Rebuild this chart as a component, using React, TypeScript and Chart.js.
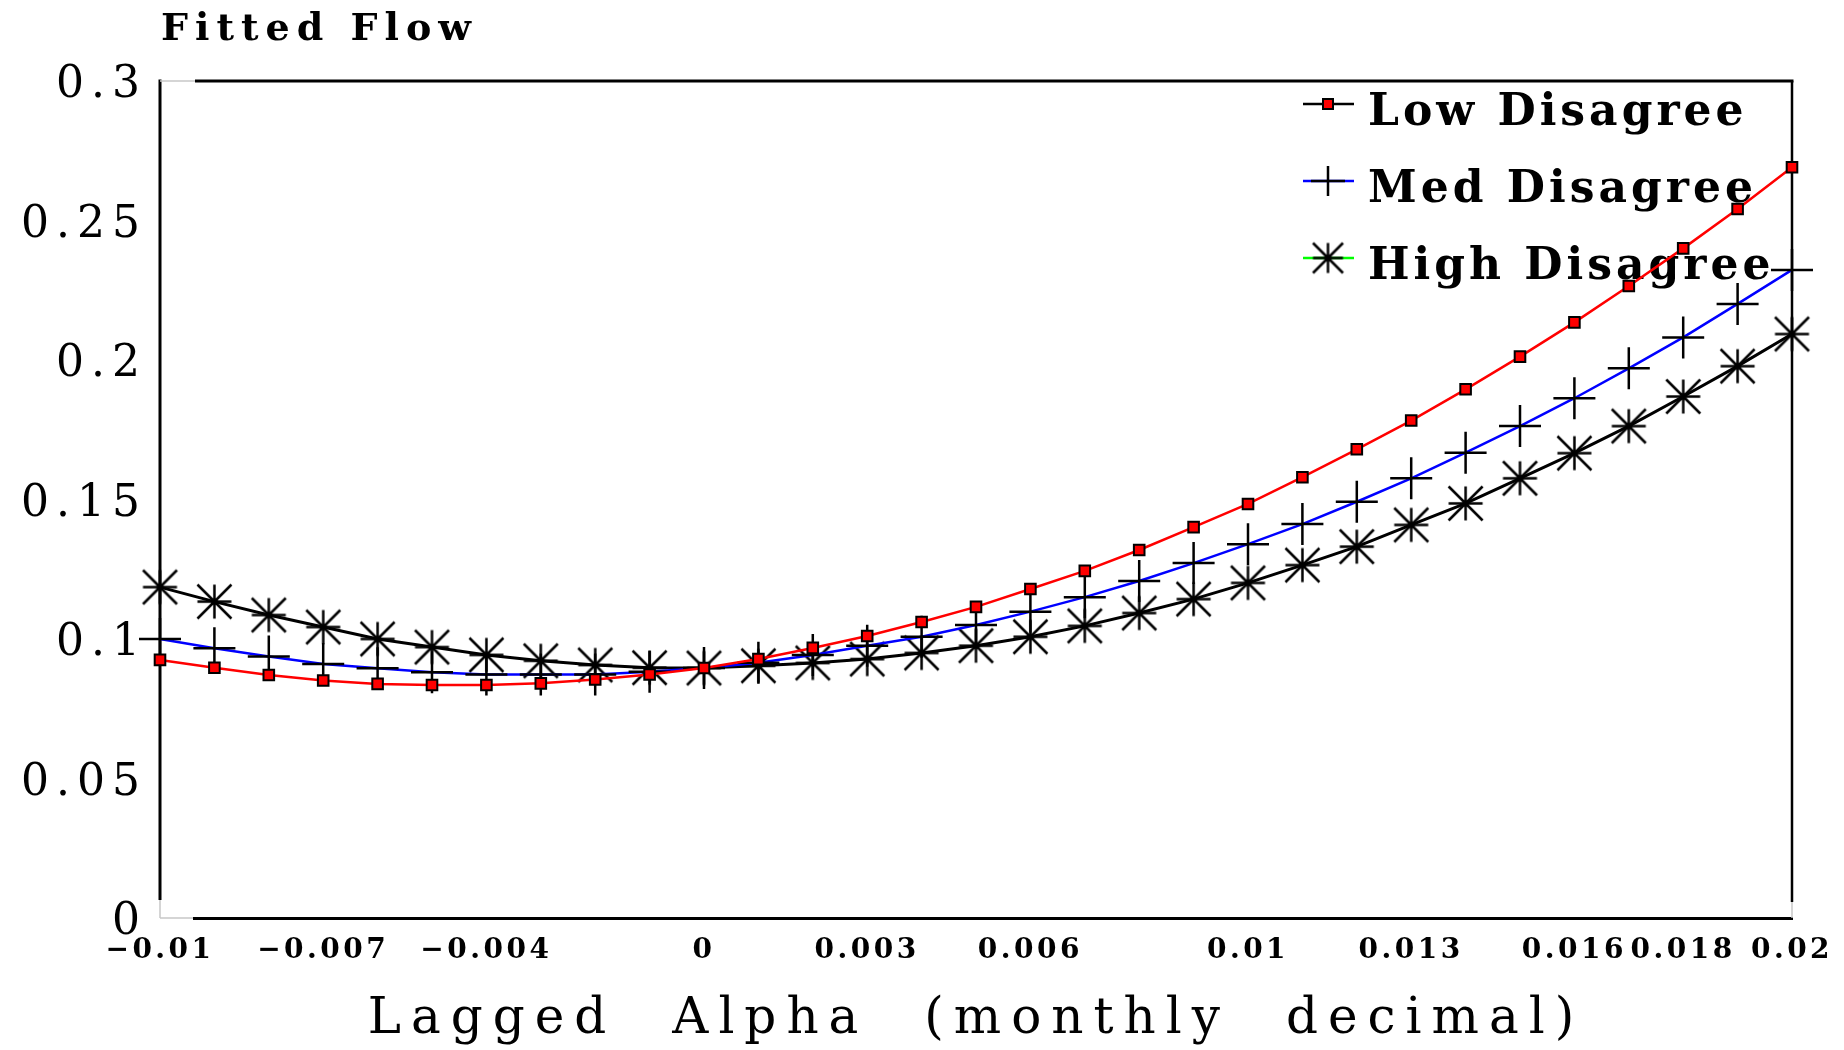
import React, { useEffect, useRef } from 'react';
import { Chart, registerables } from 'chart.js';

Chart.register(...registerables);

// ---- data ----
const xValues = [
  -0.01, -0.009, -0.008, -0.007, -0.006, -0.005, -0.004, -0.003, -0.002, -0.001,
  0, 0.001, 0.002, 0.003, 0.004, 0.005, 0.006, 0.007, 0.008, 0.009,
  0.01, 0.011, 0.012, 0.013, 0.014, 0.015, 0.016, 0.017, 0.018, 0.019, 0.02,
];
const lowDisagree = [
  0.0925, 0.0897, 0.0871, 0.0851, 0.0839, 0.0835, 0.0835, 0.0841, 0.0855, 0.0873,
  0.0896, 0.0928, 0.0968, 0.1011, 0.1061, 0.1115, 0.1179, 0.1244, 0.1319, 0.1401,
  0.1484, 0.158, 0.168, 0.1783, 0.1895, 0.2012, 0.2135, 0.2265, 0.24, 0.2541, 0.2691,
];
const medDisagree = [
  0.1, 0.0967, 0.0937, 0.091, 0.0895, 0.0881, 0.0873, 0.0873, 0.0873, 0.0883,
  0.0896, 0.0915, 0.0943, 0.0976, 0.1008, 0.105, 0.1098, 0.115, 0.1208, 0.1272,
  0.134, 0.1412, 0.1492, 0.1576, 0.1668, 0.1763, 0.1863, 0.197, 0.2081, 0.2201, 0.2323,
];
const highDisagree = [
  0.1186, 0.1134, 0.1086, 0.1043, 0.1, 0.0971, 0.0943, 0.0922, 0.0907, 0.0897,
  0.0896, 0.0904, 0.0914, 0.0928, 0.095, 0.0976, 0.1008, 0.1047, 0.1093, 0.1143,
  0.1201, 0.1265, 0.1331, 0.1409, 0.1486, 0.1576, 0.1666, 0.1763, 0.1869, 0.1978, 0.2093,
];
const xTickValues = [-0.01, -0.007, -0.004, 0, 0.003, 0.006, 0.01, 0.013, 0.016, 0.018, 0.02];
const yTickValues = [0, 0.05, 0.1, 0.15, 0.2, 0.25, 0.3];
const yTickLabels = ['0', '0.05', '0.1', '0.15', '0.2', '0.25', '0.3'];
const seriesNames = ['Low Disagree', 'Med Disagree', 'High Disagree'];
const chartTitle = 'Fitted Flow';
const xAxisTitle = 'Lagged Alpha (monthly decimal)';

const SERIF = '"DejaVu Serif", serif';

function makeStar(half: number, lw: number) {
  const size = Math.ceil(half * 2 + lw * 2 + 2);
  const c = document.createElement('canvas');
  c.width = size;
  c.height = size;
  const g = c.getContext('2d')!;
  g.strokeStyle = '#000';
  g.lineWidth = lw;
  const m = size / 2;
  g.beginPath();
  g.moveTo(m - half, m); g.lineTo(m + half, m);
  g.moveTo(m, m - half); g.lineTo(m, m + half);
  g.moveTo(m - half, m - half); g.lineTo(m + half, m + half);
  g.moveTo(m - half, m + half); g.lineTo(m + half, m - half);
  g.stroke();
  return c;
}

function spaced(fn: any, spacing: string, wordSpacing: string) {
  return function (this: any, ...args: any[]) {
    const ctx = this.ctx;
    const prev = ctx.letterSpacing;
    const prevW = ctx.wordSpacing;
    ctx.letterSpacing = spacing;
    ctx.wordSpacing = wordSpacing;
    try {
      return fn.apply(this, args);
    } finally {
      ctx.letterSpacing = prev;
      ctx.wordSpacing = prevW;
    }
  };
}

function patchScale(scale: any, labelSpacing: string, titleSpacing: string, titleWordSpacing: string) {
  if (scale.__patched) return;
  const proto = Object.getPrototypeOf(scale);
  scale.drawLabels = spaced(proto.drawLabels, labelSpacing, '0px');
  scale.drawTitle = spaced(proto.drawTitle, titleSpacing, titleWordSpacing);
  scale.__patched = true;
}

const fmtX = (v: number) => {
  const s = String(Math.abs(v));
  return v < 0 ? '\u2212' + s : s;
};

export default function App() {
  const ref = useRef<HTMLCanvasElement | null>(null);

  useEffect(() => {
    const canvas = ref.current!;
    const star = makeStar(17, 2.5);
    const legendStar = makeStar(15, 2.5);

    const framePlugin = {
      id: 'frameAndLegend',
      beforeDatasetsDraw(chart: any) {
        const { ctx } = chart;
        const { left, right, top, bottom } = chart.chartArea;
        ctx.save();
        ctx.fillStyle = '#fff';
        ctx.fillRect(left - 3, bottom - 18, 6, 21);
        ctx.fillRect(left - 3, bottom - 3, 36, 6);
        ctx.lineCap = 'butt';
        ctx.strokeStyle = '#000';
        ctx.lineWidth = 3;
        ctx.beginPath();
        ctx.moveTo(left + 35, top);
        ctx.lineTo(right + 1.5, top);
        ctx.stroke();
        ctx.lineWidth = 2.5;
        ctx.beginPath();
        ctx.moveTo(right, top);
        ctx.lineTo(right, bottom - 16);
        ctx.stroke();
        ctx.lineWidth = 3;
        ctx.beginPath();
        ctx.moveTo(left, top - 1.5);
        ctx.lineTo(left, bottom - 18);
        ctx.stroke();
        ctx.strokeStyle = '#c8c8c8';
        ctx.lineWidth = 1.5;
        ctx.beginPath();
        ctx.moveTo(left, top); ctx.lineTo(left + 35, top);
        ctx.moveTo(right, bottom - 16); ctx.lineTo(right, bottom);
        ctx.moveTo(left, bottom - 18); ctx.lineTo(left, bottom);
        ctx.moveTo(left, bottom); ctx.lineTo(left + 33, bottom);
        ctx.stroke();

        // chart title
        ctx.fillStyle = '#000';
        ctx.font = `bold 38px ${SERIF}`;
        ctx.letterSpacing = '7px';
        ctx.textAlign = 'left';
        ctx.textBaseline = 'alphabetic';
        ctx.fillText(chartTitle, 161, 40);

        // legend
        const rows = [104, 181, 258];
        const lineColors = ['#000000', '#0000ff', '#00ff00'];
        const lx0 = 1303, lx1 = 1354, mx = 1328;
        ctx.font = `bold 44px ${SERIF}`;
        ctx.letterSpacing = '4px';
        seriesNames.forEach((name, i) => {
          const y = rows[i];
          ctx.strokeStyle = lineColors[i];
          ctx.lineWidth = 2.5;
          ctx.beginPath();
          ctx.moveTo(lx0, y); ctx.lineTo(lx1, y);
          ctx.stroke();
          if (i === 0) {
            ctx.fillStyle = '#ff0000';
            ctx.strokeStyle = '#000';
            ctx.lineWidth = 2;
            ctx.fillRect(mx - 5, y - 5, 10, 10);
            ctx.strokeRect(mx - 5, y - 5, 10, 10);
          } else if (i === 1) {
            ctx.strokeStyle = '#000';
            ctx.lineWidth = 2.5;
            ctx.beginPath();
            ctx.moveTo(mx - 17, y); ctx.lineTo(mx + 17, y);
            ctx.moveTo(mx, y - 15); ctx.lineTo(mx, y + 15);
            ctx.stroke();
          } else {
            ctx.drawImage(legendStar, mx - legendStar.width / 2, y - legendStar.height / 2);
          }
          ctx.fillStyle = '#000';
          ctx.fillText(name, 1368, y + 21);
        });
        ctx.restore();
      },
    };

    const chart = new Chart(canvas, {
      type: 'line',
      data: {
        datasets: [
          {
            label: seriesNames[0],
            data: xValues.map((x, i) => ({ x, y: lowDisagree[i] })),
            borderColor: '#ff0000',
            borderWidth: 2.5,
            pointStyle: 'rect',
            pointRadius: 7.5,
            pointBackgroundColor: '#ff0000',
            pointBorderColor: '#000000',
            pointBorderWidth: 2,
            tension: 0,
          },
          {
            label: seriesNames[1],
            data: xValues.map((x, i) => ({ x, y: medDisagree[i] })),
            borderColor: '#0000ff',
            borderWidth: 2.5,
            pointStyle: 'cross',
            pointRadius: 21,
            pointBorderColor: '#000000',
            pointBorderWidth: 2.5,
            tension: 0,
          },
          {
            label: seriesNames[2],
            data: xValues.map((x, i) => ({ x, y: highDisagree[i] })),
            borderColor: '#000000',
            borderWidth: 3,
            pointStyle: star as any,
            pointRadius: 17,
            pointBorderColor: '#000000',
            tension: 0,
          },
        ],
      },
      options: {
        animation: false,
        responsive: false,
        devicePixelRatio: 1,
        clip: false as any,
        layout: { padding: { top: 81, right: 52, left: 0, bottom: 0 } },
        plugins: {
          legend: { display: false },
          title: { display: false },
          tooltip: { enabled: false },
        },
        events: [],
        scales: {
          x: {
            type: 'linear',
            min: -0.01,
            max: 0.02,
            grid: { display: false, drawTicks: false },
            border: { display: true, color: '#000', width: 3, dash: [51.4, 3], dashOffset: 51.4 },
            afterBuildTicks: (scale: any) => {
              scale.ticks = xTickValues.map((v) => ({ value: v }));
            },
            afterFit: (scale: any) => {
              scale.height = 132;
            },
            afterUpdate: (scale: any) => patchScale(scale, '3.5px', '10px', '30px'),
            ticks: {
              autoSkip: false,
              maxRotation: 0,
              padding: 16,
              color: '#000',
              font: { family: SERIF, size: 28, weight: 'bold' },
              callback: (v: any) => fmtX(Number(v)),
            },
            title: {
              display: true,
              text: xAxisTitle,
              color: '#000',
              font: { family: SERIF, size: 50, weight: 'normal' },
              padding: { top: 0, bottom: 0 },
            },
          },
          y: {
            type: 'linear',
            min: 0,
            max: 0.3,
            grid: { display: false, drawTicks: false },
            border: { display: false },
            afterBuildTicks: (scale: any) => {
              scale.ticks = yTickValues.map((v) => ({ value: v }));
            },
            afterFit: (scale: any) => {
              scale.width = 160;
            },
            afterUpdate: (scale: any) => patchScale(scale, '7px', '0px', '0px'),
            ticks: {
              padding: 13,
              labelOffset: 5,
              color: '#000',
              font: { family: SERIF, size: 44, weight: 'normal' },
              callback: (_v: any, i: number) => yTickLabels[i],
            },
          },
        },
      },
      plugins: [framePlugin],
    } as any);

    return () => chart.destroy();
  }, []);

  return (
    <div style={{ position: 'absolute', left: 0, top: 0, width: 1844, height: 1050, background: '#fff' }}>
      <canvas ref={ref} width={1844} height={1050} style={{ display: 'block' }} />
    </div>
  );
}
